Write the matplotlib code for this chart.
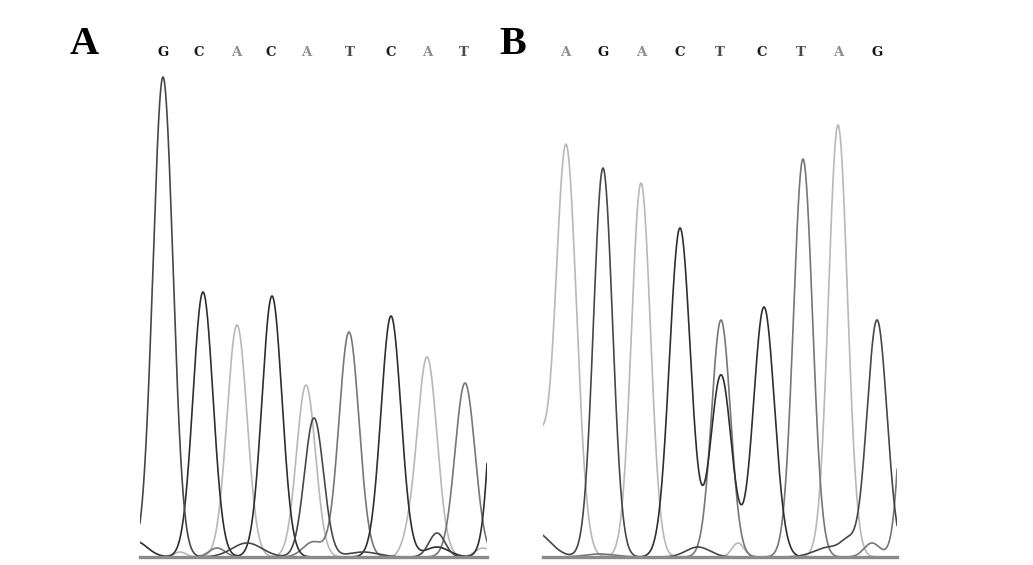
import numpy as np
import matplotlib.pyplot as plt
from matplotlib.transforms import blended_transform_factory

# base calls printed above each trace
calls_a = ["G", "C", "A", "C", "A", "T", "C", "A", "T"]
call_pos_a = [23, 59, 96, 131, 166, 210, 251, 287, 324]
calls_b = ["A", "G", "A", "C", "T", "C", "T", "A", "G"]
call_pos_b = [22, 60, 98, 137, 177, 219, 258, 295, 334]

# peaks per channel: (scan position, height, width)
# panel A
a_A = [(97, 232, 10), (166, 172, 9.5), (287, 200, 10), (40, 5, 6), (267, 10, 6), (343, 9, 8)]
a_C = [(63, 265, 10), (132, 261, 10), (251, 241, 10), (365, 470, 10), (-5, 16, 12), (297, 10, 12)]
a_G = [(23, 480, 10), (174, 139, 9.5), (107, 14, 15), (223, 5, 15), (297, 24, 8)]
a_T = [(209, 225, 10), (325, 174, 10), (77, 9, 8), (173, 15, 10)]
# panel B
b_A = [(23, 412, 10.5), (98, 374, 9.5), (295, 432, 9.5), (-5, 110, 9), (195, 14, 6)]
b_C = [(137, 329, 10.5), (178, 182, 10.5), (221, 250, 10.5)]
b_G = [(60, 389, 9.5), (334, 237, 10), (-8, 25, 15), (155, 10, 12), (287, 10, 15), (305, 12, 7)]
b_T = [(178, 237, 9.5), (260, 398, 9.5), (371, 430, 9.5), (329, 14, 8), (57, 3, 15)]

colors = {"A": "#b8b8b8", "C": "#2e2e2e", "G": "#474747", "T": "#767676"}
letter_colors = {"A": "#8c8c8c", "C": "#1e1e1e", "G": "#111111", "T": "#4a4a4a"}


def trace(x, peaks):
    y = np.zeros_like(x)
    for c, h, w in peaks:
        y += h * np.exp(-0.5 * ((x - c) / w) ** 2)
    return y


fig = plt.figure(figsize=(10.33, 5.65), dpi=100)

panels = [
    ("A", 140, 347, {"A": a_A, "C": a_C, "G": a_G, "T": a_T}, calls_a, call_pos_a, 84),
    ("B", 543, 354, {"A": b_A, "C": b_C, "G": b_G, "T": b_T}, calls_b, call_pos_b, 513),
]

for label, left, width, channels, calls, call_pos, label_x in panels:
    ax = fig.add_axes([left / 1033, 8 / 565, width / 1033, 500 / 565])
    x = np.linspace(-30, width + 30, 3000)
    for base in ["A", "T", "C", "G"]:
        ax.plot(x, trace(x, channels[base]), color=colors[base], lw=1.2)
    ax.set_xlim(0, width)
    ax.set_ylim(0, 500)
    for s in ["top", "left", "right"]:
        ax.spines[s].set_visible(False)
    ax.spines["bottom"].set_color("#8a8a8a")
    ax.spines["bottom"].set_linewidth(2.4)
    ax.set_xticks([])
    ax.set_yticks([])
    ax.patch.set_alpha(0)

    tr = blended_transform_factory(ax.transData, ax.transAxes)
    for b, p in zip(calls, call_pos):
        ax.text(p, 1.008, b, transform=tr, ha="center", va="center",
                fontsize=9.5, fontweight="bold", family="DejaVu Serif",
                color=letter_colors[b], clip_on=False)

    fig.text(label_x / 1033, 1 - 45 / 565, label, ha="center", va="center",
             fontsize=29, fontweight="bold", family="Liberation Serif")

fig.savefig("out.png", dpi=100)
